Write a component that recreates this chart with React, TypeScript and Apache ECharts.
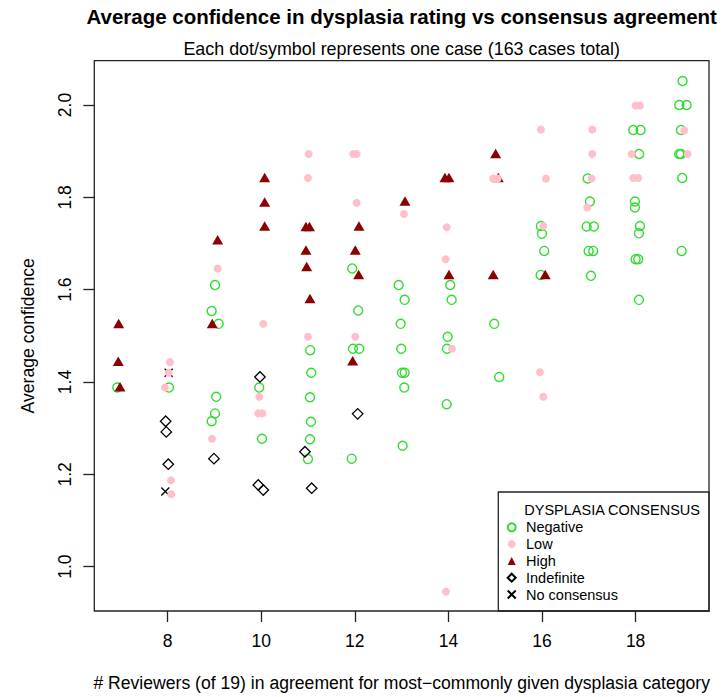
import React, { useEffect, useRef } from 'react';
import * as echarts from 'echarts';

const FONT = '"Liberation Sans", Arial, Helvetica, sans-serif';

const xTicks = [8, 10, 12, 14, 16, 18];
const yTicks = [1.0, 1.2, 1.4, 1.6, 1.8, 2.0];

// [reviewers in agreement (jittered), average confidence]
const negative: [number, number][] = [
  [6.923, 1.388],
  [8.028, 1.388],
  [9.011, 1.61], [8.94, 1.554], [9.09, 1.526], [9.038, 1.368], [9.011, 1.332], [8.94, 1.315],
  [9.957, 1.388], [10.015, 1.277],
  [11.047, 1.469], [11.068, 1.42], [11.041, 1.367], [11.062, 1.314], [11.041, 1.276], [10.998, 1.233],
  [11.944, 1.646], [12.073, 1.555], [11.959, 1.472], [12.094, 1.472], [11.932, 1.234],
  [12.936, 1.61], [13.064, 1.578], [12.979, 1.526], [12.991, 1.472], [13.006, 1.42], [13.064, 1.42], [13.056, 1.388], [13.021, 1.262],
  [14.038, 1.61], [14.068, 1.578], [13.983, 1.498], [13.968, 1.472], [13.962, 1.352],
  [14.979, 1.526], [15.085, 1.411],
  [15.976, 1.738], [15.998, 1.721], [16.047, 1.684], [15.97, 1.632],
  [16.974, 1.841], [17.023, 1.791], [16.953, 1.737], [17.109, 1.737], [16.996, 1.684], [17.094, 1.684], [17.045, 1.63],
  [17.949, 1.946], [18.107, 1.946], [18.077, 1.894], [17.985, 1.791], [17.985, 1.778], [18.092, 1.738], [18.071, 1.722], [18.0, 1.666], [18.056, 1.666], [18.071, 1.578],
  [19.004, 2.052], [18.932, 2.0], [19.09, 2.0], [18.968, 1.946], [18.932, 1.894], [18.968, 1.894], [18.996, 1.842], [18.983, 1.684],
];

const low: [number, number][] = [
  [8.049, 1.443], [8.021, 1.42], [7.942, 1.388], [8.071, 1.187], [8.077, 1.157],
  [9.068, 1.646], [8.947, 1.277],
  [10.043, 1.526], [9.957, 1.368], [9.936, 1.332], [10.021, 1.332],
  [11.013, 1.894], [10.998, 1.842], [10.998, 1.498],
  [11.966, 1.894], [12.038, 1.894], [12.038, 1.788], [12.009, 1.498],
  [13.049, 1.764],
  [13.962, 1.735], [13.94, 1.666], [14.075, 1.472], [13.947, 0.946],
  [14.957, 1.841], [15.051, 1.841],
  [15.976, 1.947], [16.083, 1.841], [16.026, 1.738], [15.955, 1.421], [16.026, 1.368],
  [17.073, 1.947], [17.073, 1.894], [17.06, 1.841], [16.966, 1.778],
  [18.0, 1.999], [18.092, 1.999], [17.915, 1.894], [17.949, 1.842], [18.056, 1.842],
  [19.038, 1.945], [19.111, 1.894],
];

const high: [number, number][] = [
  [6.953, 1.527], [6.944, 1.445], [6.981, 1.39],
  [9.068, 1.708], [8.953, 1.527],
  [10.073, 1.843], [10.073, 1.79], [10.073, 1.738],
  [10.955, 1.737], [11.03, 1.737], [10.955, 1.686], [10.97, 1.65], [11.041, 1.581],
  [12.088, 1.738], [12.009, 1.686], [12.081, 1.633], [11.953, 1.446],
  [13.071, 1.792],
  [13.925, 1.843], [14.011, 1.843], [14.011, 1.633],
  [15.009, 1.895], [15.064, 1.843], [14.957, 1.633],
  [16.068, 1.633],
];

const indefinite: [number, number][] = [
  [7.957, 1.315], [7.97, 1.292], [8.013, 1.222],
  [8.989, 1.234],
  [9.972, 1.411], [9.936, 1.177], [10.043, 1.166],
  [10.934, 1.249], [11.077, 1.17],
  [12.06, 1.331],
];

const noConsensus: [number, number][] = [
  [8.021, 1.42], [7.949, 1.163],
];

const GREEN = '#2fdc2f';
const PINK = '#ffc0cb';
const DARKRED = '#8b0000';
const CROSS = 'path://M0,0L10,10M10,0L0,10';

export default function App() {
  const ref = useRef<HTMLDivElement>(null);
  useEffect(() => {
    if (!ref.current) return;
    const chart = echarts.init(ref.current, null, { renderer: 'svg' });
    const gridLeft = 94.3;
    const gridTop = 60.7;
    const gridW = 614.7;
    const gridH = 550.3;
    chart.setOption({
      animation: false,
      backgroundColor: '#fff',
      textStyle: { fontFamily: FONT },
      title: [
        {
          text: 'Average confidence in dysplasia rating vs consensus agreement',
          left: 401.7, top: 6, textAlign: 'center', padding: 0,
          textStyle: { fontSize: 20.5, fontWeight: 'bold', color: '#000', fontFamily: FONT },
        },
        {
          text: 'Each dot/symbol represents one case (163 cases total)',
          left: 401.7, top: 40, textAlign: 'center', padding: 0,
          textStyle: { fontSize: 17.9, fontWeight: 'normal', color: '#000', fontFamily: FONT },
        },
      ],
      grid: {
        left: gridLeft, top: gridTop, width: gridW, height: gridH,
        show: true, borderColor: '#222', borderWidth: 1.3, backgroundColor: 'transparent',
        outerBoundsMode: 'none',
      },
      xAxis: {
        type: 'value', min: 6.432, max: 19.568,
        name: '# Reviewers (of 19) in agreement for most\u2212commonly given dysplasia category',
        nameLocation: 'middle', nameGap: 63,
        nameTextStyle: { fontSize: 17.6, color: '#000', fontFamily: FONT },
        axisLine: { show: false },
        splitLine: { show: false },
        axisTick: { show: true, customValues: xTicks, length: 11, inside: false, lineStyle: { color: '#222', width: 1.3 } },
        axisLabel: { customValues: xTicks, fontSize: 17.5, color: '#000', margin: 21, fontFamily: FONT },
      },
      yAxis: {
        type: 'value', min: 0.904, max: 2.096,
        name: 'Average confidence',
        nameLocation: 'middle', nameGap: 57, nameRotate: 90,
        nameTextStyle: { fontSize: 17.6, color: '#000', fontFamily: FONT },
        axisLine: { show: false },
        splitLine: { show: false },
        axisTick: { show: true, customValues: yTicks, length: 11, inside: false, lineStyle: { color: '#222', width: 1.3 } },
        axisLabel: {
          customValues: yTicks, rotate: 90, fontSize: 17.5, color: '#000', margin: 20, fontFamily: FONT,
          formatter: (v: number) => v.toFixed(1),
        },
      },
      legend: {
        data: ['Negative', 'Low', 'High', 'Indefinite', 'No consensus'],
        orient: 'vertical', left: 506.7, top: 518.9,
        itemWidth: 8, itemHeight: 8, itemGap: 0, padding: 0,
        selectedMode: false,
        textStyle: { fontSize: 14.5, lineHeight: 16.8, color: '#000', fontFamily: FONT, padding: [0, 0, 0, 5.3] },
      },
      graphic: [
        {
          type: 'rect', shape: { x: 498.3, y: 492, width: 709 - 498.3, height: 611 - 492 },
          style: { fill: 'transparent', stroke: '#222', lineWidth: 1.3 }, z: 10,
        },
        {
          type: 'text', x: 524.3, y: 509.7,
          style: { text: 'DYSPLASIA CONSENSUS', fontSize: 14.5, fontFamily: FONT, fill: '#000', align: 'left', verticalAlign: 'middle' },
          z: 10,
        },
      ],
      series: [
        {
          name: 'Negative', type: 'scatter', data: negative, symbol: 'circle', symbolSize: 9,
          itemStyle: { color: 'rgba(0,0,0,0)', borderColor: GREEN, borderWidth: 1.4, opacity: 1 },
        },
        {
          name: 'High', type: 'scatter', data: high, symbol: 'triangle', symbolSize: [11, 9.5],
          itemStyle: { color: DARKRED, opacity: 1 },
        },
        {
          name: 'Indefinite', type: 'scatter', data: indefinite, symbol: 'diamond', symbolSize: 10.5,
          itemStyle: { color: 'rgba(0,0,0,0)', borderColor: '#000', borderWidth: 1.3, opacity: 1 },
        },
        {
          name: 'No consensus', type: 'scatter', data: noConsensus, symbol: CROSS, symbolSize: 8,
          itemStyle: { color: 'rgba(0,0,0,0)', borderColor: '#000', borderWidth: 1.3, opacity: 1 },
        },
        {
          name: 'Low', type: 'scatter', data: low, symbol: 'circle', symbolSize: 8,
          itemStyle: { color: PINK, opacity: 1 },
        },
      ],
    });
    return () => chart.dispose();
  }, []);
  return <div ref={ref} style={{ position: 'fixed', left: 0, top: 0, width: 724, height: 697 }} />;
}
